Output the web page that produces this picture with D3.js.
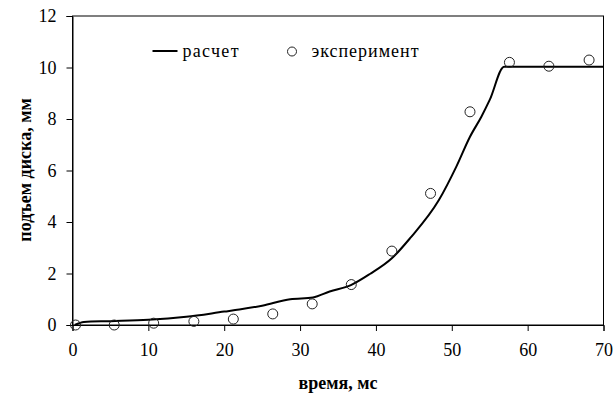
<!DOCTYPE html>
<html><head><meta charset="utf-8">
<script src="https://cdn.jsdelivr.net/npm/d3@7"></script>
<style>body{margin:0;background:#fff}svg{display:block}svg text{font-family:"Liberation Serif","Times New Roman",Times,serif !important;fill:#000}</style>
</head><body><div id="chart"></div>
<script>
const calcT = [0.3, 1.5, 5, 10, 15, 20, 22, 25, 28.7, 31.7, 33.9, 36.7, 39.2, 42.1, 44.5, 48.3, 50.6, 52.4, 53.9, 55.0, 56.9, 70];
const calcV = [0, 0.12, 0.15, 0.2, 0.32, 0.52, 0.6, 0.75, 1.0, 1.07, 1.3, 1.55, 1.98, 2.59, 3.37, 4.85, 6.15, 7.31, 8.09, 8.74, 10.03, 10.03];
const expT = [0.4, 5.5, 10.7, 16.0, 21.2, 26.4, 31.6, 36.75, 42.1, 47.2, 52.4, 57.6, 62.8, 68.1];
const expV = [0.0, 0.0, 0.07, 0.14, 0.23, 0.43, 0.82, 1.57, 2.87, 5.11, 8.28, 10.2, 10.05, 10.29];
const xTicks = [0, 10, 20, 30, 40, 50, 60, 70];
const yTicks = [0, 2, 4, 6, 8, 10, 12];
const xTitle = "время, мс";
const yTitle = "подъем диска, мм";
const legendCalc = "расчет";
const legendExp = "эксперимент";

const W = 614, H = 396;
const m = {left: 72.5, right: 10.5, top: 16, bottom: 71};
const svg = d3.select("#chart").append("svg").attr("width", W).attr("height", H);
const x = d3.scaleLinear().domain([0, 70]).range([m.left, W - m.right]);
const y = d3.scaleLinear().domain([0, 12]).range([H - m.bottom, m.top]);

svg.append("rect").attr("x", x(0)).attr("y", y(12)).attr("width", x(70) - x(0)).attr("height", y(0) - y(12))
  .attr("fill", "none").attr("stroke", "#000").attr("stroke-width", 1);

const xa = svg.append("g").attr("transform", `translate(0,${y(0)})`)
  .call(d3.axisBottom(x).tickValues(xTicks).tickSize(6).tickPadding(12).tickFormat(d3.format("d")));
const ya = svg.append("g").attr("transform", `translate(${x(0)},0)`)
  .call(d3.axisLeft(y).tickValues(yTicks).tickSize(6).tickPadding(10).tickFormat(d3.format("d")));
[xa, ya].forEach(g => {
  g.attr("font-family", null).attr("font-size", null);
  g.select(".domain").attr("stroke", "#000");
  g.selectAll(".tick line").attr("stroke", "#000");
  g.selectAll(".tick text").attr("font-size", 18).attr("fill", "#000");
});

const line = d3.line().x((d, i) => x(calcT[i])).y((d, i) => y(calcV[i])).curve(d3.curveMonotoneX);
svg.append("path").datum(calcV).attr("d", line).attr("fill", "none").attr("stroke", "#000").attr("stroke-width", 2).attr("stroke-linejoin", "round");

svg.append("g").selectAll("circle").data(expV).join("circle")
  .attr("cx", (d, i) => x(expT[i])).attr("cy", d => y(d)).attr("r", 5)
  .attr("fill", "none").attr("stroke", "#222").attr("stroke-width", 1);

svg.append("line").attr("x1", 152.5).attr("x2", 177.5).attr("y1", 51).attr("y2", 51).attr("stroke", "#000").attr("stroke-width", 2);
svg.append("text").attr("x", 182.5).attr("y", 57).attr("font-size", 18).attr("textLength", 56).attr("lengthAdjust", "spacing").text(legendCalc);
svg.append("circle").attr("cx", 292).attr("cy", 51.5).attr("r", 4.5).attr("fill", "none").attr("stroke", "#222").attr("stroke-width", 1);
svg.append("text").attr("x", 311.5).attr("y", 57).attr("font-size", 18).attr("textLength", 107).attr("lengthAdjust", "spacing").text(legendExp);

svg.append("text").attr("x", (x(0) + x(70)) / 2).attr("y", 389).attr("text-anchor", "middle")
  .attr("font-size", 18).attr("font-weight", "bold").text(xTitle);
svg.append("text").attr("transform", `translate(31,${170}) rotate(-90)`).attr("text-anchor", "middle")
  .attr("font-size", 18).attr("font-weight", "bold").text(yTitle);
</script></body></html>
